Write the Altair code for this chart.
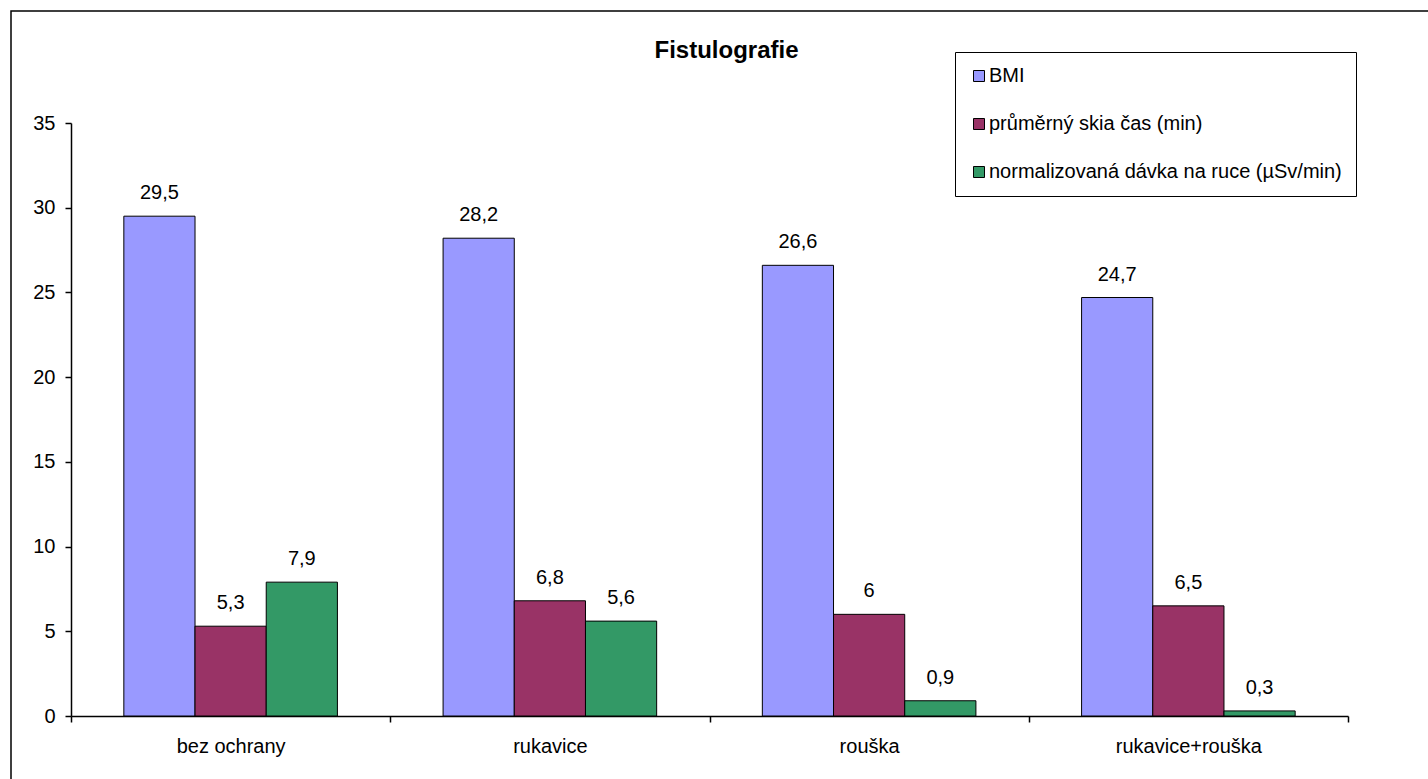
import altair as alt
import pandas as pd

categories = ["bez ochrany", "rukavice", "rouška", "rukavice+rouška"]
series = ["BMI", "průměrný skia čas (min)", "normalizovaná dávka na ruce (µSv/min)"]
bmi = [29.5, 28.2, 26.6, 24.7]
skia_cas = [5.3, 6.8, 6.0, 6.5]
davka = [7.9, 5.6, 0.9, 0.3]
colors = ["#9999FF", "#993366", "#339966"]

rows = []
for i, c in enumerate(categories):
    for s, vals in zip(series, [bmi, skia_cas, davka]):
        rows.append({"kategorie": c, "serie": s, "hodnota": vals[i]})
df = pd.DataFrame(rows)

FONT = "Liberation Sans"
W, H = 1277, 593

x = alt.X("kategorie:N", sort=categories, title=None,
          scale=alt.Scale(paddingInner=0, paddingOuter=0),
          axis=alt.Axis(labelAngle=0, labelFontSize=20, labelFont=FONT, labelColor="black",
                        tickBand="extent", tickSize=6, tickColor="black", domainColor="black",
                        labelPadding=14, domainWidth=1.5, tickWidth=1.5, grid=False))
xo = alt.XOffset("serie:N", sort=series,
                 scale=alt.Scale(paddingInner=0, paddingOuter=0.742))
y = alt.Y("hodnota:Q", title=None,
          scale=alt.Scale(domain=[0, 35], nice=False),
          axis=alt.Axis(values=[0, 5, 10, 15, 20, 25, 30, 35], grid=False, labelFontSize=20,
                        labelFont=FONT, labelColor="black", tickSize=6, tickColor="black",
                        domainColor="black", labelPadding=10, domainWidth=1.5, tickWidth=1.5))

bars = alt.Chart(df).mark_bar(stroke="black", strokeWidth=1).encode(
    x=x, xOffset=xo, y=y,
    color=alt.Color("serie:N", sort=series, title=None,
                    scale=alt.Scale(domain=series, range=colors),
                    legend=alt.Legend(orient="none", legendX=884, legendY=-71,
                                      strokeColor="black", fillColor="white", padding=14,
                                      symbolType="square", symbolSize=121,
                                      symbolStrokeColor="black", symbolStrokeWidth=1,
                                      labelFontSize=20, labelFont=FONT, labelColor="black",
                                      labelOffset=0, rowPadding=28, labelLimit=600)),
)

labels = alt.Chart(df).transform_calculate(
    txt="replace(toString(datum.hodnota), '.', ',')"
).mark_text(baseline="alphabetic", dy=-17, fontSize=20, font=FONT, color="black").encode(
    x=alt.X("kategorie:N", sort=categories),
    xOffset=alt.XOffset("serie:N", sort=series),
    y=alt.Y("hodnota:Q"),
    text="txt:N",
)

border = alt.Chart(pd.DataFrame({"a": [0]})).mark_rect(
    fill=None, stroke="black", strokeWidth=1.5
).encode(
    x=alt.value(-60), x2=alt.value(1428 - 71 + 20),
    y=alt.value(-112), y2=alt.value(779 - 123 + 20),
)

chart = alt.layer(border, bars, labels).properties(
    width=W, height=H,
    background="white",
    title=alt.TitleParams("Fistulografie", fontSize=24, font=FONT, fontWeight="bold",
                          anchor="middle", dx=17, offset=-53, color="black"),
    autosize=alt.AutoSizeParams(type="none"),
    padding={"left": 71, "top": 123, "right": 80, "bottom": 63},
).configure_view(stroke="transparent", strokeWidth=0).configure_axis(grid=False)

chart.save("out.html", embed_options={"renderer": "svg", "actions": False})
